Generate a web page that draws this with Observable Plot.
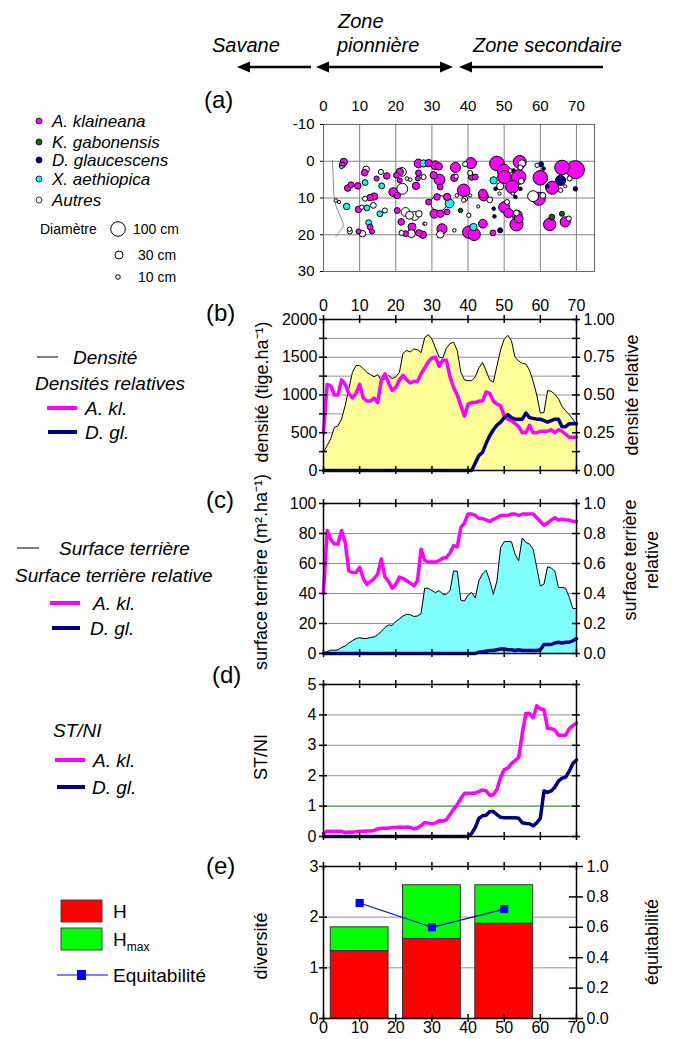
<!DOCTYPE html>
<html><head><meta charset="utf-8">
<script src="https://cdn.jsdelivr.net/npm/d3@7"></script>
<script src="https://cdn.jsdelivr.net/npm/@observablehq/plot@0.6"></script>
<style>
html,body{margin:0;padding:0;background:#fff;overflow:hidden}
#root{position:relative;width:676px;height:1039px;overflow:hidden;background:#fff}
.pan{position:absolute}
</style></head><body><div id="root"></div>
<script>
// ---------------- DATA ----------------
const distance = [0,1,2,3,4,5,6,7,8,9,10,11,12,13,14,15,16,17,18,19,20,21,22,23,24,25,26,27,28,29,30,31,32,33,34,35,36,37,38,39,40,41,42,43,44,45,46,47,48,49,50,51,52,53,54,55,56,57,58,59,60,61,62,63,64,65,66,67,68,69,70];
// (b) density (stems/ha) and relative densities
const densite = [240,330,420,570,590,680,860,1080,1300,1390, 1390,1350,1300,1270,1240,1270,1190,1215,1260,1215, 1240,1300,1550,1590,1570,1610,1600,1560,1760,1800, 1740,1620,1500,1490,1620,1680,1700,1590,1300,1200, 1190,1190,1240,1360,1430,1320,1200,1170,1390,1600, 1740,1790,1720,1500,1450,1420,1410,1330,1180,1000, 760,770,1060,1050,1010,950,850,790,740,680,600];
const densRelAkl = [0.25,0.57,0.56,0.50,0.50,0.60,0.57,0.51,0.48,0.51, 0.57,0.48,0.46,0.46,0.48,0.45,0.60,0.64,0.58,0.53, 0.55,0.60,0.63,0.60,0.58,0.59,0.59,0.64,0.68,0.72, 0.745,0.75,0.69,0.73,0.73,0.62,0.55,0.50,0.43,0.36, 0.44,0.45,0.45,0.46,0.46,0.52,0.51,0.46,0.44,0.43, 0.36,0.34,0.33,0.31,0.29,0.25,0.25,0.30,0.25,0.25, 0.26,0.26,0.26,0.27,0.25,0.27,0.26,0.24,0.22,0.22,0.22];
const densRelDgl = [0,0,0,0,0,0,0,0,0,0, 0,0,0,0,0,0,0,0,0,0, 0,0,0,0,0,0,0,0,0,0, 0,0,0,0,0,0,0,0,0,0, 0,0,0.05,0.10,0.12,0.18,0.23,0.27,0.30,0.32, 0.35,0.37,0.35,0.34,0.34,0.34,0.38,0.35,0.345,0.34, 0.34,0.33,0.32,0.33,0.34,0.34,0.29,0.29,0.31,0.31,0.31];
// (c) basal area (m2/ha) and relative basal areas
const surfTerr = [0,1.3,2.2,2.2,2.4,4,5,7,8.5,10, 10.5,10,10,10.7,11,12.5,14.7,17.3,19,18.7, 21.3,23,25,26.2,25.8,24.7,25,26.7,43.5,43.5, 42,40.5,42,39.5,39.5,42,55,55,35.5,35, 39,40.7,37,48.5,53,55.5,48.5,39.5,48.5,70.7, 74.5,74.7,74.5,66.2,61.8,77,74,73,69.5,57.3, 45,46.2,57.8,57,55,44,44,43.5,37.3,30,30];
const stRelAkl = [0.40,0.82,0.76,0.73,0.73,0.82,0.74,0.55,0.54,0.54, 0.575,0.50,0.46,0.48,0.50,0.53,0.63,0.51,0.48,0.435, 0.46,0.51,0.50,0.485,0.47,0.45,0.485,0.695,0.62,0.61, 0.61,0.61,0.62,0.635,0.64,0.67,0.72,0.71,0.84,0.87, 0.93,0.93,0.92,0.90,0.90,0.89,0.88,0.895,0.905,0.92, 0.92,0.92,0.93,0.93,0.92,0.93,0.93,0.93,0.93,0.905, 0.88,0.855,0.87,0.89,0.905,0.89,0.895,0.89,0.89,0.88,0.88];
const stRelDgl = [0,0,0,0,0,0,0,0,0,0, 0,0,0,0,0,0,0,0,0,0, 0,0,0,0,0,0,0,0,0,0, 0,0,0,0,0,0,0,0,0,0, 0,0,0,0.01,0.01,0.015,0.02,0.02,0.025,0.03, 0.03,0.025,0.025,0.02,0.025,0.02,0.02,0.02,0.02,0.02, 0.025,0.06,0.06,0.06,0.07,0.075,0.07,0.075,0.075,0.085,0.10];
// (d) ST/NI ratio
const stniAkl = [0.10,0.17,0.17,0.17,0.17,0.17,0.13,0.15,0.14,0.16, 0.17,0.17,0.18,0.18,0.20,0.25,0.27,0.27,0.27,0.30, 0.30,0.31,0.30,0.31,0.30,0.25,0.28,0.36,0.46,0.44, 0.43,0.44,0.52,0.51,0.55,0.72,0.90,1.05,1.25,1.42, 1.42,1.42,1.43,1.48,1.53,1.50,1.35,1.38,1.55,1.95, 2.20,2.25,2.40,2.50,2.60,3.40,4.05,4.05,3.90,4.30, 4.20,4.17,3.55,3.55,3.50,3.33,3.33,3.33,3.55,3.65,3.73];
const stniDgl = [0,0,0,0,0,0,0,0,0,0, 0,0,0,0,0,0,0,0,0,0, 0,0,0,0,0,0,0,0,0,0, 0,0,0,0,0,0,0,0,0,0, 0,0.1,0.3,0.6,0.68,0.70,0.82,0.82,0.72,0.63, 0.62,0.62,0.62,0.62,0.60,0.45,0.43,0.42,0.35,0.45, 0.60,1.50,1.45,1.50,1.62,1.82,1.92,1.95,2.15,2.40,2.52];
// (e) diversity per 20 m band
const bandStart = [2,22,42];
const bandEnd = [18,38,58];
const bandMid = [10,30,50];
const diversH = [1.33,1.57,1.87];
const diversHmax = [1.80,2.63,2.63];
const equitabilite = [0.76,0.60,0.72];
// (a) tree map: x (m), y (m), diameter (cm), species
const speciesCodes = ["A","K","D","X","O"];
const speciesNames = ["A. klaineana","K. gabonensis","D. glaucescens","X. aethiopica","Autres"];
const speciesColors = ["#FF00FF","#007000","#000080","#00FFFF","#FFFFFF"];
const treeX = [5.6,5.2,5.0,11.8,11.4,15.9,14.7,17.5,16.1,11.5,9.5,7.6,6.7,11.5,12.9,14.0,3.4,4.3,6.4,9.7,10.6,12.0,13.8,15.6,17.0,12.5,12.9,13.4,7.3,7.2,9.7,10.8,20.2,21.1,21.7,21.1,19.3,20.4,21.8,25.6,26.1,24.0,23.1,26.3,27.7,20.4,22.7,23.8,25.2,26.4,21.5,24.5,24.3,26.4,27.5,27.9,22.7,21.6,27.7,29.1,30.9,31.9,30.5,32.1,32.3,26.3,31.9,34.9,34.2,31.4,29.1,30.7,32.3,34.2,32.8,32.3,28.2,36.2,36.5,36.2,36.7,40.8,39.2,40.6,41.0,42.0,38.8,39.2,40.6,36.9,38.8,37.9,40.2,42.8,44.3,44.1,46.0,44.1,41.5,40.2,41.7,46.9,47.1,47.3,48.9,47.6,47.1,48.9,48.7,48.0,49.9,50.0,52.2,51.7,54.3,54.9,54.5,54.0,54.7,52.6,54.5,53.1,50.0,50.8,51.2,53.6,53.4,53.4,54.0,52.4,59.1,60.2,60.9,60.0,58.0,59.6,60.7,61.9,63.3,66.0,69.7,65.6,68.1,66.9,65.6,69.7,62.6,63.2,66.0,66.9,67.9];
const treeY = [0.2,1.0,1.6,2.2,3.1,2.9,4.7,4.0,6.7,5.8,6.7,6.4,7.3,10.2,9.9,9.6,10.7,11.1,12.3,13.1,12.5,12.7,12.0,14.3,13.4,16.7,17.9,19.1,19.1,18.5,19.1,19.7,3.8,2.9,2.9,5.2,8.4,9.3,7.5,6.7,4.7,5.0,4.7,0.6,4.3,13.4,13.8,14.7,14.9,14.3,16.5,17.9,19.7,19.5,20.0,17.0,19.7,19.5,0.6,0.5,1.1,1.4,3.8,5.0,7.0,3.2,11.4,11.5,9.7,9.7,11.1,14.3,14.3,13.8,18.4,19.9,17.0,18.8,1.7,4.5,4.1,0.5,0.8,3.2,4.3,4.3,7.9,10.2,9.3,9.3,10.6,13.4,14.7,12.3,9.5,8.8,10.5,17.0,17.9,19.3,19.9,19.5,12.9,15.0,18.8,7.5,5.2,6.8,8.8,0.6,2.6,4.3,7.0,2.6,0.2,0.6,1.7,4.3,5.4,2.5,7.5,9.7,12.5,11.1,14.1,14.7,14.1,17.2,15.6,8.8,1.1,0.8,2.0,4.5,9.5,10.2,9.3,6.8,7.2,1.7,2.3,5.2,4.7,6.8,7.9,7.5,17.2,15.2,14.3,16.5,15.6];
const treeDiam = [25,16,6,20,20,12,12,20,16,16,20,16,20,12,20,25,6,5,20,20,9,16,16,16,12,16,16,12,12,9,12,20,16,25,36,12,36,20,56,25,12,6,6,36,12,16,36,30,36,20,20,30,30,20,25,5,16,12,25,25,36,25,25,56,16,16,120,36,25,20,16,36,25,16,48,25,5,6,48,25,9,56,12,12,20,16,72,12,5,6,9,9,9,5,42,36,16,36,25,72,72,16,6,6,12,6,25,25,5,99,80,80,80,9,80,25,12,99,16,6,6,6,56,12,42,48,16,80,36,5,9,12,6,99,56,80,16,6,80,99,154,48,12,5,9,9,72,16,12,48,12];
const treeSp = ["A","A","X","O","A","O","A","A","X","X","A","A","A","O","A","A","O","O","X","A","O","X","O","X","O","X","A","A","O","O","A","O","A","A","O","A","A","A","O","A","A","O","O","A","O","A","O","O","O","O","A","A","O","A","A","O","A","O","X","A","A","A","A","A","A","A","O","X","A","A","A","A","A","A","A","O","O","O","A","A","O","A","O","O","A","A","A","O","O","O","O","K","O","O","A","A","O","A","X","A","A","A","D","D","D","D","X","O","O","A","A","A","A","O","A","O","O","A","O","D","D","D","A","O","A","A","O","A","A","O","O","D","D","A","O","A","O","D","A","A","A","D","O","O","O","D","A","K","K","A","O"];
// savanna edge line
const edgeX = [2.45,2.7,2.9,3.4,4.5,5.5,4.7,3.4];
const edgeY = [-0.3,4.7,9.3,12.0,14.7,17.5,18.8,20.6];
// tick values
const xTicks10 = [0,10,20,30,40,50,60,70];
const yTicksA = [-10,0,10,20,30];
const yTicksB = [0,500,1000,1500,2000];
const yTicksB250 = [0,250,500,750,1000,1250,1500,1750,2000];
const yTicksC = [0,20,40,60,80,100];
const yTicksD = [0,1,2,3,4,5];
const yTicksE = [0,1,2,3];
const yTicksErightRel = [0,0.2,0.4,0.6,0.8,1.0];

// ---------------- HELPERS ----------------
const FONT = 'Arial, "Liberation Sans", Helvetica, sans-serif';
const root = document.getElementById("root");
function place(svg, left, top) {
  const d = document.createElement("div");
  d.className = "pan";
  d.style.left = left + "px"; d.style.top = top + "px";
  d.appendChild(svg); root.appendChild(d);
}
const TK = {stroke: "#000", strokeWidth: 1.5};
function ticksTB(vals, fh, len = 4) {
  return [Plot.ruleX(vals, {...TK, insetTop: -len, insetBottom: fh - len}),
          Plot.ruleX(vals, {...TK, insetTop: fh - len, insetBottom: -len})];
}
function ticksL(vals, fw, len = 4) { return Plot.ruleY(vals, {...TK, insetLeft: -len, insetRight: fw - len}); }
function ticksR(vals, fw, len = 4) { return Plot.ruleY(vals, {...TK, insetLeft: fw - len, insetRight: -len}); }
const style = (fs) => ({fontFamily: FONT, fontSize: fs + "px", color: "#000", background: "transparent", overflow: "visible"});

const rows = distance.map((x, i) => ({
  x, dens: densite[i], dAkl: densRelAkl[i], dDgl: densRelDgl[i],
  st: surfTerr[i], sAkl: stRelAkl[i], sDgl: stRelDgl[i],
  rAkl: stniAkl[i], rDgl: stniDgl[i]
}));
const trees = treeX.map((x, i) => ({x, y: treeY[i], d: treeDiam[i], sp: treeSp[i]}))
  .sort((a, b) => b.d - a.d);
const edge = edgeX.map((x, i) => ({x, y: edgeY[i]}));
const bands = bandStart.map((a, i) => ({a, b: bandEnd[i], mid: bandMid[i], h: diversH[i], hmax: diversHmax[i], eq: equitabilite[i]}));
const R100 = 7.3;

// ---------------- (a) tree map ----------------
place(Plot.plot({
  width: 676, height: 200, marginLeft: 323, marginRight: 82, marginTop: 44, marginBottom: 9,
  style: style(15),
  x: {domain: [0, 75]},
  y: {domain: [-10, 30], reverse: true},
  r: {type: "sqrt", domain: [0, 100], range: [0, R100]},
  color: {domain: speciesCodes, range: speciesColors},
  marks: [
    Plot.gridX(xTicks10.slice(1), {stroke: "#808080", strokeOpacity: 1}),
    Plot.gridY([0, 10, 20], {stroke: "#808080", strokeOpacity: 1}),
    Plot.frame({stroke: "#666"}),
    Plot.line(edge, {x: "x", y: "y", stroke: "#888", strokeWidth: 1, curve: "catmull-rom"}),
    Plot.dot(trees, {x: "x", y: "y", r: "d", fill: "sp", stroke: "#000", strokeWidth: 1}),
    Plot.axisX(xTicks10, {anchor: "top", tickSize: 0, tickPadding: 14, label: null}),
    Plot.axisY(yTicksA, {anchor: "left", tickSize: 0, tickPadding: 9, label: null, tickFormat: d => String(d)}),
    Plot.ruleY(yTicksA, {...TK, strokeWidth: 1, insetLeft: -3, insetRight: 271})
  ]
}), 0, 80);

// ---------------- (b) density ----------------
place(Plot.plot({
  width: 676, height: 190, marginLeft: 323, marginRight: 100, marginTop: 29, marginBottom: 10,
  style: style(16),
  x: {domain: [0, 70]},
  y: {domain: [0, 2000]},
  marks: [
    Plot.gridY([250, 500, 750, 1000, 1250, 1500, 1750], {stroke: "#909090", strokeOpacity: 1}),
    Plot.areaY(rows, {x: "x", y: "dens", fill: "#FFFF99"}),
    Plot.lineY(rows, {x: "x", y: "dens", stroke: "#000", strokeWidth: 1}),
    Plot.lineY(rows, {x: "x", y: d => d.dAkl * 2000, stroke: "#FF00FF", strokeWidth: 3.5}),
    Plot.lineY(rows, {x: "x", y: d => d.dDgl * 2000, stroke: "#000080", strokeWidth: 3.5}),
    Plot.frame({stroke: "#000", strokeWidth: 1.5}),
    ...ticksTB(xTicks10, 151),
    ticksL(yTicksB250, 253), ticksR(yTicksB250, 253),
    Plot.axisX(xTicks10, {anchor: "top", tickSize: 0, tickPadding: 9, label: null}),
    Plot.axisY(yTicksB, {anchor: "left", tickSize: 0, tickPadding: 6, label: null, tickFormat: d => String(d)}),
    Plot.axisY(yTicksB, {anchor: "right", tickSize: 0, tickPadding: 7, label: null, tickFormat: d => (d / 2000).toFixed(2)})
  ]
}), 0, 290);

// ---------------- (c) basal area ----------------
place(Plot.plot({
  width: 676, height: 175, marginLeft: 323, marginRight: 100, marginTop: 13, marginBottom: 12,
  style: style(16),
  x: {domain: [0, 70], axis: null},
  y: {domain: [0, 100]},
  marks: [
    Plot.gridY([20, 40, 60, 80], {stroke: "#909090", strokeOpacity: 1}),
    Plot.areaY(rows, {x: "x", y: "st", fill: "#80FFFF"}),
    Plot.lineY(rows, {x: "x", y: "st", stroke: "#000", strokeWidth: 1}),
    Plot.lineY(rows, {x: "x", y: d => d.sAkl * 100, stroke: "#FF00FF", strokeWidth: 3.5}),
    Plot.lineY(rows, {x: "x", y: d => d.sDgl * 100, stroke: "#000080", strokeWidth: 3.5}),
    Plot.frame({stroke: "#000", strokeWidth: 1.5}),
    ...ticksTB(xTicks10, 150),
    ticksL(yTicksC, 253), ticksR(yTicksC, 253),
    Plot.axisY(yTicksC, {anchor: "left", tickSize: 0, tickPadding: 7, label: null}),
    Plot.axisY(yTicksC, {anchor: "right", tickSize: 0, tickPadding: 7, label: null, tickFormat: d => (d / 100).toFixed(1)})
  ]
}), 0, 490);

// ---------------- (d) ST/NI ----------------
place(Plot.plot({
  width: 676, height: 180, marginLeft: 323, marginRight: 100, marginTop: 14, marginBottom: 14,
  style: style(16),
  x: {domain: [0, 70], axis: null},
  y: {domain: [0, 5]},
  marks: [
    Plot.gridY([2, 3, 4], {stroke: "#909090", strokeOpacity: 1}),
    Plot.gridY([1], {stroke: "#008000", strokeOpacity: 1}),
    Plot.lineY(rows, {x: "x", y: "rAkl", stroke: "#FF00FF", strokeWidth: 3.5}),
    Plot.lineY(rows, {x: "x", y: "rDgl", stroke: "#000080", strokeWidth: 3.5}),
    Plot.frame({stroke: "#000", strokeWidth: 1.5}),
    ...ticksTB(xTicks10, 152),
    ticksL(yTicksD, 253), ticksR(yTicksD, 253),
    Plot.axisY(yTicksD, {anchor: "left", tickSize: 0, tickPadding: 7, label: null})
  ]
}), 0, 670);

// ---------------- (e) diversity ----------------
place(Plot.plot({
  width: 676, height: 187, marginLeft: 323, marginRight: 100, marginTop: 14, marginBottom: 21,
  style: style(16),
  x: {domain: [0, 70]},
  y: {domain: [0, 3]},
  marks: [
    Plot.gridY([1, 2], {stroke: "#909090", strokeOpacity: 1}),
    Plot.rect(bands, {x1: "a", x2: "b", y1: () => 0, y2: "h", fill: "#FF0000", stroke: "#333", strokeWidth: 1}),
    Plot.rect(bands, {x1: "a", x2: "b", y1: "h", y2: "hmax", fill: "#00FF00", stroke: "#333", strokeWidth: 1}),
    Plot.lineY(bands, {x: "mid", y: d => d.eq * 3, stroke: "#0000FF", strokeWidth: 1.2}),
    Plot.dot(bands, {x: "mid", y: d => d.eq * 3, symbol: "square", r: 4.6, fill: "#0000FF"}),
    Plot.frame({stroke: "#000", strokeWidth: 1.5}),
    ...ticksTB(xTicks10, 152),
    ticksL(yTicksE, 253),
    ticksR(yTicksErightRel.map(v => v * 3), 253, 7),
    Plot.axisX(xTicks10, {anchor: "bottom", tickSize: 0, tickPadding: 3, label: null}),
    Plot.axisY(yTicksE, {anchor: "left", tickSize: 0, tickPadding: 5, label: null, tickFormat: d => String(d)}),
    Plot.axisY(yTicksErightRel.map(v => v * 3), {anchor: "right", tickSize: 0, tickPadding: 10, label: null, tickFormat: d => (d / 3).toFixed(1)})
  ]
}), 0, 852);

// ---------------- overlay: headers, titles, legends ----------------
const ov = d3.select(root).append("svg")
  .attr("width", 676).attr("height", 1039)
  .style("position", "absolute").style("left", 0).style("top", 0)
  .attr("font-family", FONT);

function txt(x, y, s, o = {}) {
  const t = ov.append("text").attr("x", x).attr("y", y).attr("dy", "0.35em")
    .attr("font-size", o.size || 19).attr("fill", "#000").text(s);
  if (o.italic) t.attr("font-style", "italic");
  if (o.anchor) t.attr("text-anchor", o.anchor);
  if (o.rot) t.attr("x", 0).attr("y", 0).attr("text-anchor", "middle").attr("transform", `translate(${x},${y}) rotate(-90)`);
  return t;
}
// zone headers
txt(212, 45, "Savane", {italic: true, size: 20});
txt(338, 21, "Zone", {italic: true, size: 20});
txt(337, 45, "pionnière", {italic: true, size: 20});
txt(473, 45, "Zone secondaire", {italic: true, size: 20});
function arrowHead(x, y, dir) {
  ov.append("path").attr("d", `M${x},${y} L${x - dir * 13},${y - 5.5} L${x - dir * 13},${y + 5.5} Z`).attr("fill", "#000");
}
function hline(x1, x2, y) { ov.append("line").attr("x1", x1).attr("x2", x2).attr("y1", y).attr("y2", y).attr("stroke", "#000").attr("stroke-width", 2.5); }
hline(311, 248, 67); arrowHead(237, 67, -1);
hline(327, 442, 67); arrowHead(316, 67, -1); arrowHead(453, 67, 1);
hline(603, 470, 67); arrowHead(459, 67, -1);

// panel letters
txt(204, 100, "(a)", {size: 24});
txt(206, 313, "(b)", {size: 24});
txt(206, 500, "(c)", {size: 24});
txt(212, 675, "(d)", {size: 24});
txt(206, 866, "(e)", {size: 24});

// axis titles
txt(262, 392, "densité (tige.ha⁻¹)", {rot: true, size: 18});
txt(261, 572, "surface terrière (m².ha⁻¹)", {rot: true, size: 18});
txt(261, 757, "ST/NI", {rot: true, size: 18});
txt(261, 946, "diversité", {rot: true, size: 18});
txt(632, 395, "densité relative", {rot: true, size: 18});
txt(630, 560, "surface terrière", {rot: true, size: 18});
txt(652, 560, "relative", {rot: true, size: 18});
txt(652, 942, "équitabilité", {rot: true, size: 18});

// legend (a)
const legY = [121, 142, 160, 179, 200];
speciesNames.forEach((n, i) => {
  ov.append("circle").attr("cx", 39).attr("cy", legY[i]).attr("r", 3).attr("fill", speciesColors[i]).attr("stroke", "#000").attr("stroke-width", 0.8);
  txt(52, legY[i], n, {italic: true, size: 17});
});
txt(40, 229, "Diamètre", {size: 14});
[[100, 118, 229, 133], [30, 119, 255, 138], [10, 118, 277, 138]].forEach(([dcm, cx, cy, tx]) => {
  ov.append("circle").attr("cx", cx).attr("cy", cy).attr("r", R100 * Math.sqrt(dcm / 100)).attr("fill", "#fff").attr("stroke", "#000").attr("stroke-width", 1);
  txt(tx, cy, dcm + " cm", {size: 14});
});
function legLine(x1, x2, y, c, w) { ov.append("line").attr("x1", x1).attr("x2", x2).attr("y1", y).attr("y2", y).attr("stroke", c).attr("stroke-width", w); }
// legend (b)
legLine(37, 58, 357, "#555", 1.5); txt(73, 357, "Densité", {italic: true});
txt(35, 383, "Densités relatives", {italic: true});
legLine(47, 77, 408, "#FF00FF", 4); txt(85, 408, "A. kl.", {italic: true});
legLine(48, 77, 432, "#000080", 4); txt(85, 432, "D. gl.", {italic: true});
// legend (c)
legLine(17, 39, 548, "#555", 1.5); txt(59, 548, "Surface terrière", {italic: true});
txt(15, 575, "Surface terrière relative", {italic: true});
legLine(50, 80, 603, "#FF00FF", 4); txt(93, 603, "A. kl.", {italic: true});
legLine(52, 80, 628, "#000080", 4); txt(90, 628, "D. gl.", {italic: true});
// legend (d)
txt(53, 730, "ST/NI", {italic: true});
legLine(55, 85, 760, "#FF00FF", 4); txt(93, 760, "A. kl.", {italic: true});
legLine(57, 85, 787, "#000080", 4); txt(92, 787, "D. gl.", {italic: true});
// legend (e)
ov.append("rect").attr("x", 61).attr("y", 900).attr("width", 41).attr("height", 22).attr("fill", "#FF0000").attr("stroke", "#444");
txt(113, 911, "H");
ov.append("rect").attr("x", 61).attr("y", 928).attr("width", 41).attr("height", 22).attr("fill", "#00FF00").attr("stroke", "#444");
const hm = txt(113, 939, "H");
hm.append("tspan").attr("font-size", 12).attr("dy", "0.45em").text("max");
legLine(57, 108, 975, "#0000FF", 1.2);
ov.append("rect").attr("x", 77).attr("y", 970).attr("width", 9).attr("height", 10).attr("fill", "#0000FF");
txt(113, 975, "Equitabilité");
</script></body></html>
